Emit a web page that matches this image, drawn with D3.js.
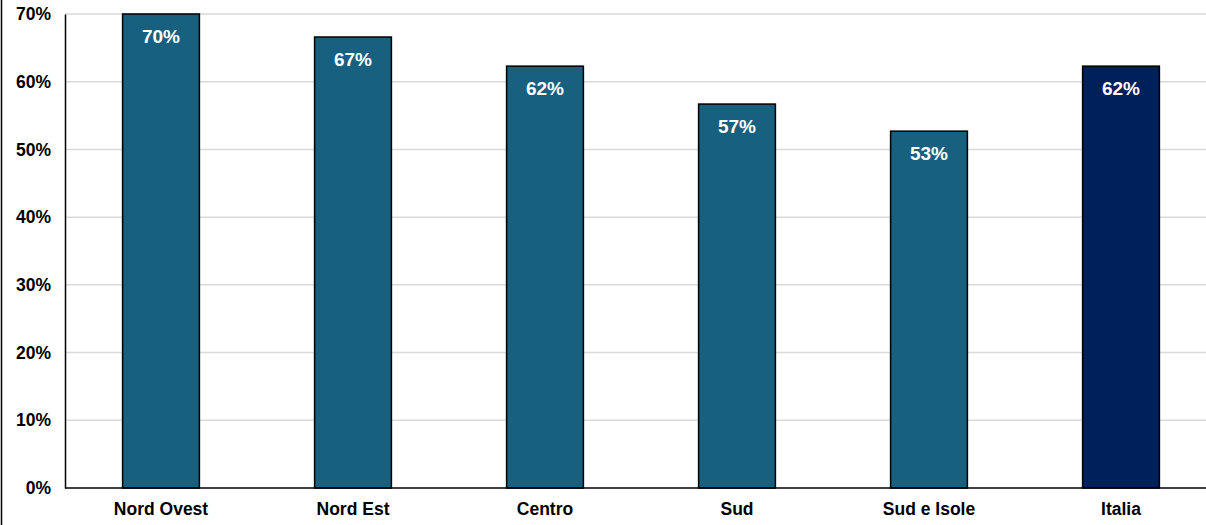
<!DOCTYPE html>
<html>
<head>
<meta charset="utf-8">
<script src="https://cdn.jsdelivr.net/npm/d3@7"></script>
<style>
  body { margin: 0; background: #fff; }
  text { font-family: "Liberation Sans", Arial, sans-serif; font-weight: bold; }
</style>
</head>
<body>
<script>
// chart data
const categories = ["Nord Ovest", "Nord Est", "Centro", "Sud", "Sud e Isole", "Italia"];
const values = [0.70, 0.666, 0.623, 0.567, 0.527, 0.623];
const labels = ["70%", "67%", "62%", "57%", "53%", "62%"];
const yTicks = [0, 0.1, 0.2, 0.3, 0.4, 0.5, 0.6, 0.7];

const width = 1206, height = 525;
const marginLeft = 65, plotTop = 14, plotBottom = 488;

let svg = d3.select("body").append("svg")
  .attr("width", width)
  .attr("height", height);

// outer frame line on the left
svg.append("line")
  .attr("x1", 1.5).attr("x2", 1.5)
  .attr("y1", 0).attr("y2", height)
  .attr("stroke", "#000").attr("stroke-width", 1.5);

let xScale = d3.scaleBand()
  .domain(categories)
  .range([marginLeft, marginLeft + 192 * 6])
  .paddingInner(0.6)
  .paddingOuter(0.3);

let yScale = d3.scaleLinear()
  .domain([0, 0.7])
  .range([plotBottom, plotTop]);

// gridlines
svg.append("g")
  .selectAll("line")
  .data(yTicks.slice(1))
  .enter().append("line")
  .attr("x1", marginLeft).attr("x2", width)
  .attr("y1", d => yScale(d)).attr("y2", d => yScale(d))
  .attr("stroke", "#d9d9d9").attr("stroke-width", 1.5);

// y axis
let yAxis = svg.append("g")
  .attr("transform", `translate(${marginLeft},0)`)
  .call(d3.axisLeft(yScale).tickValues(yTicks).tickFormat(d3.format(".0%")).tickSize(0).tickPadding(14));
yAxis.select(".domain").attr("stroke", "#000").attr("stroke-width", 1.5);
yAxis.selectAll("text").attr("font-size", 17.5).attr("fill", "#000")
  .style("font-family", "'Liberation Sans', Arial, sans-serif").style("font-weight", "bold");

// bars
svg.append("g")
  .selectAll("rect")
  .data(categories)
  .enter().append("rect")
  .attr("x", d => xScale(d))
  .attr("y", (d, i) => yScale(values[i]))
  .attr("width", xScale.bandwidth())
  .attr("height", (d, i) => plotBottom - yScale(values[i]))
  .attr("fill", d => d === "Italia" ? "#00205b" : "#17607f")
  .attr("stroke", "#000").attr("stroke-width", 1.5);

// value labels
svg.append("g")
  .selectAll("text")
  .data(categories)
  .enter().append("text")
  .attr("x", d => xScale(d) + xScale.bandwidth() / 2)
  .attr("y", (d, i) => yScale(values[i]) + 29)
  .attr("text-anchor", "middle")
  .attr("font-size", 19)
  .attr("fill", "#fff")
  .text((d, i) => labels[i]);

// x axis
let xAxis = svg.append("g")
  .attr("transform", `translate(0,${plotBottom})`)
  .call(d3.axisBottom(xScale).tickSize(0).tickPadding(15));
xAxis.select(".domain").remove();
svg.append("line")
  .attr("x1", marginLeft).attr("x2", width)
  .attr("y1", plotBottom).attr("y2", plotBottom)
  .attr("stroke", "#000").attr("stroke-width", 1.5);
xAxis.selectAll("text").attr("font-size", 17.5).attr("fill", "#000")
  .style("font-family", "'Liberation Sans', Arial, sans-serif").style("font-weight", "bold");
</script>
</body>
</html>
